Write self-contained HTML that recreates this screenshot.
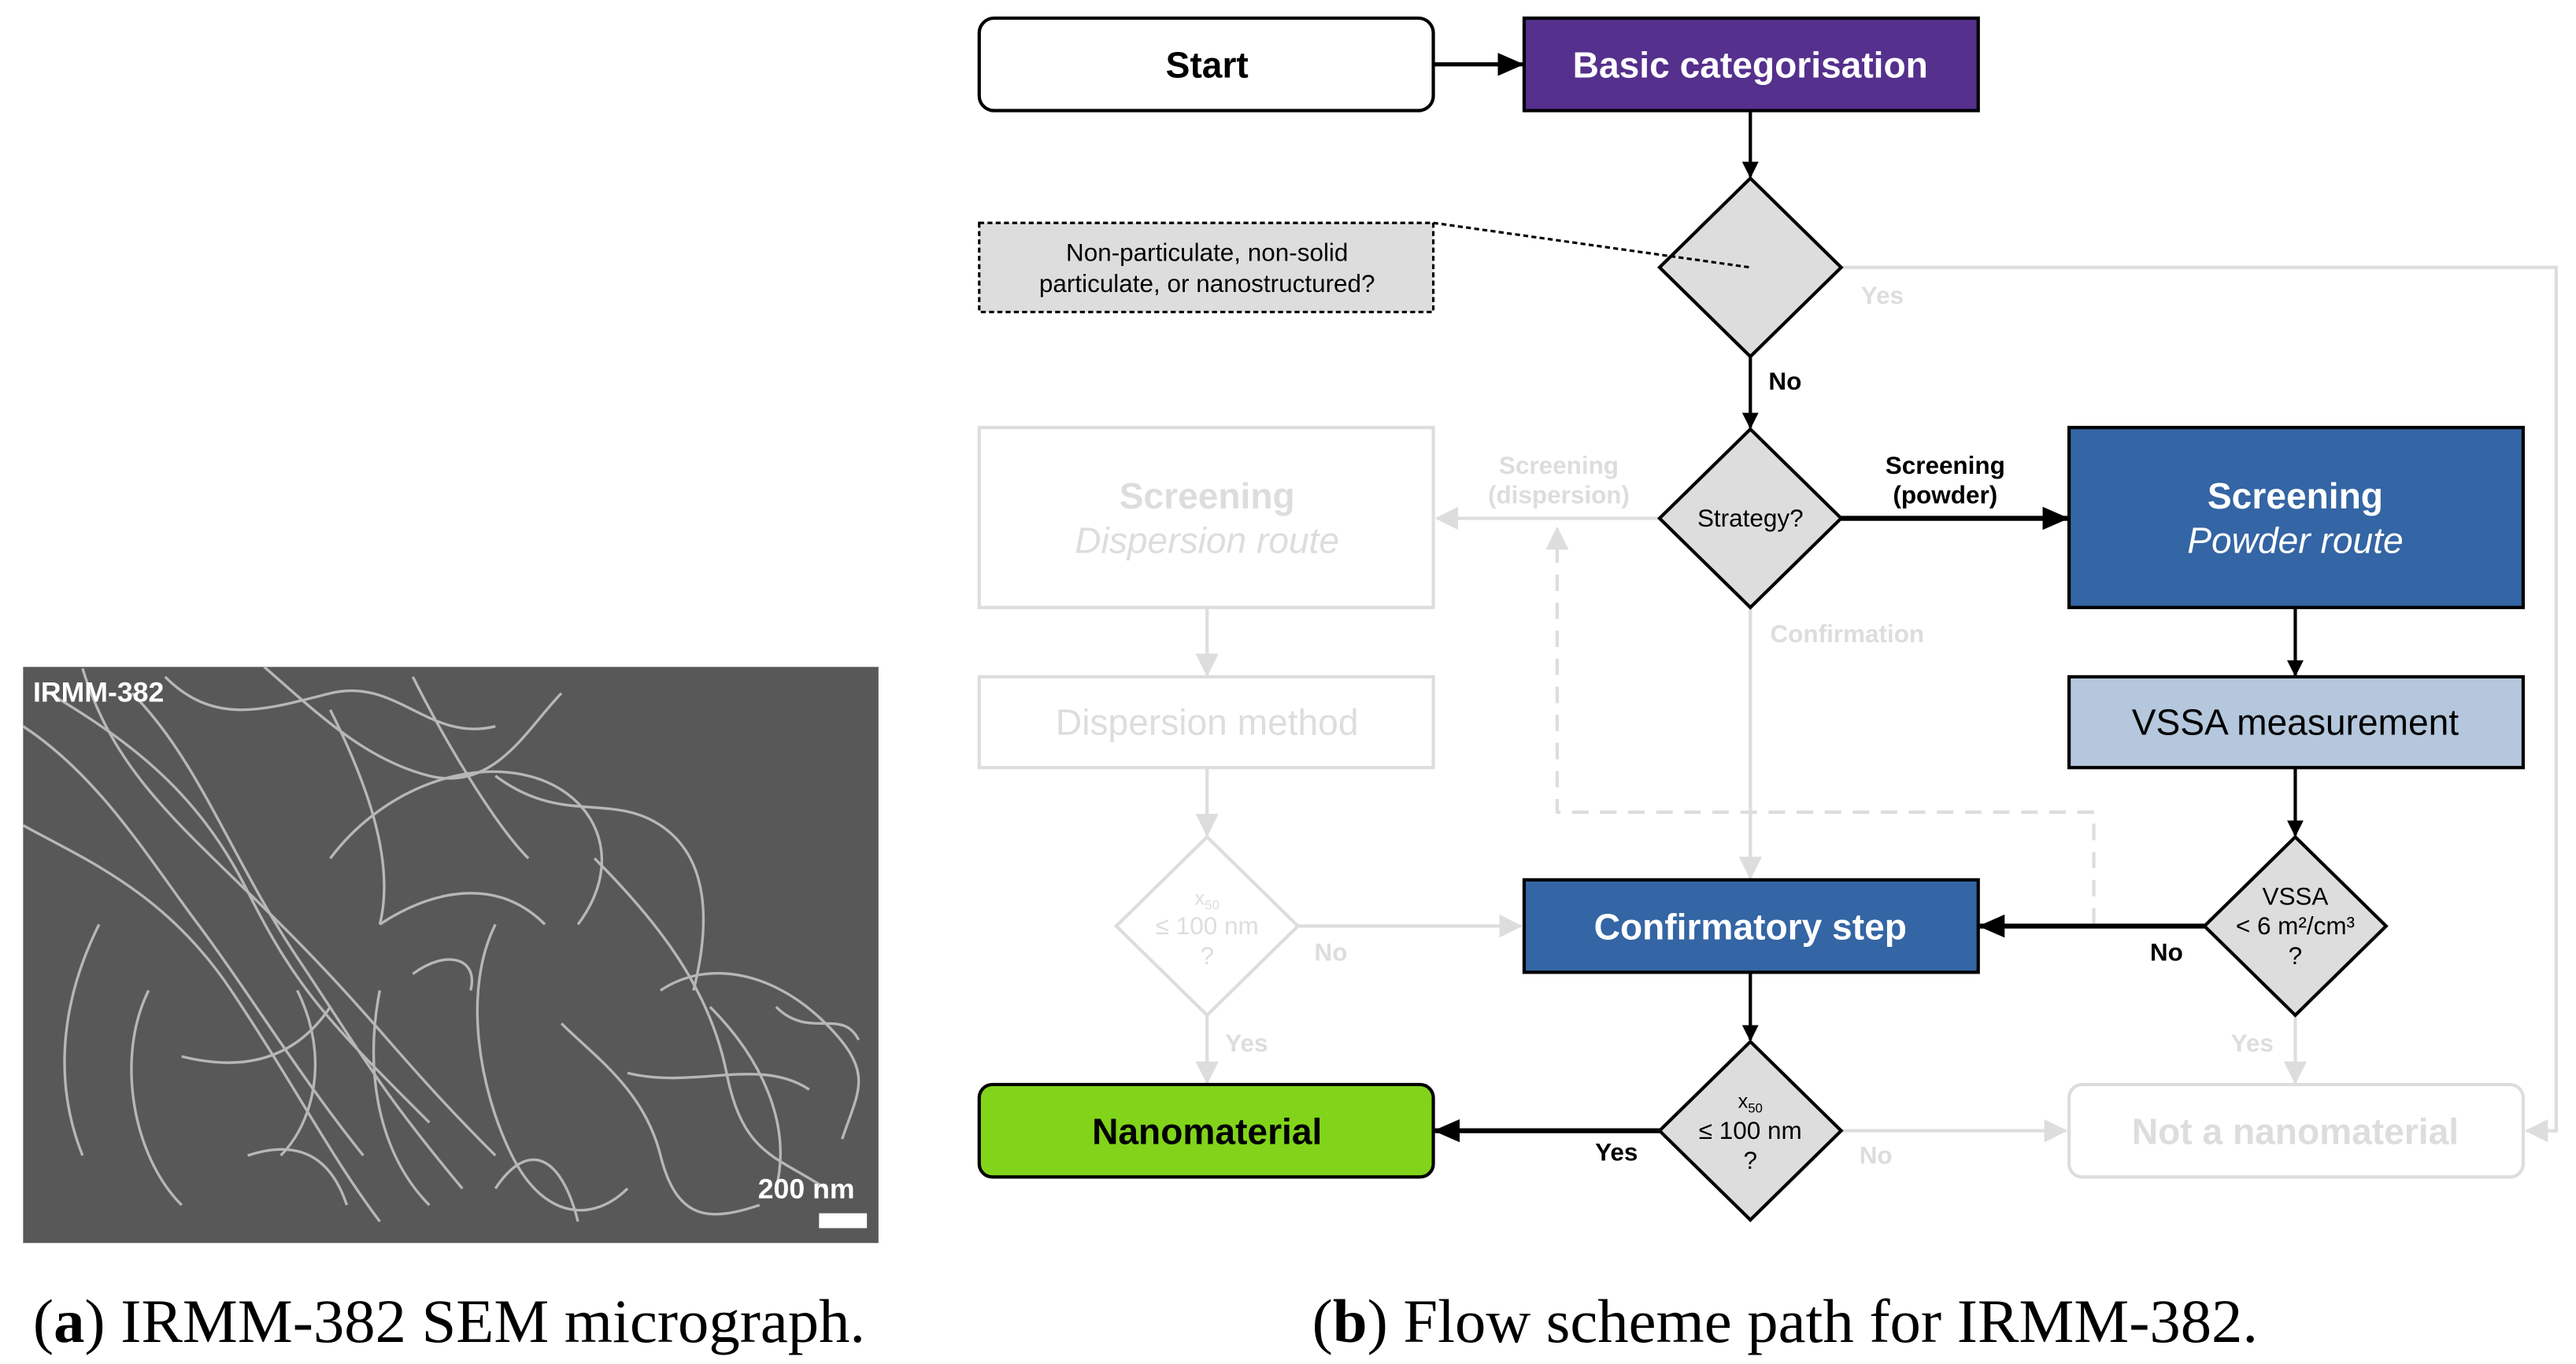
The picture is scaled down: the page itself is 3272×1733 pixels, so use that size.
<!DOCTYPE html>
<html><head><meta charset="utf-8"><style>
html,body{margin:0;padding:0;background:#fff;}
svg{display:block;}
</style></head><body>
<svg width="3272" height="1733" viewBox="0 0 1560 826.3" preserveAspectRatio="none" xmlns="http://www.w3.org/2000/svg" font-family="Liberation Sans, sans-serif">
<defs>
<marker id="ab" markerWidth="10" markerHeight="10" refX="9" refY="5" orient="auto" markerUnits="userSpaceOnUse"><path d="M0,0 L10,5 L0,10 z" fill="#000"/></marker>
<marker id="abL" markerWidth="16" markerHeight="14" refX="15" refY="7" orient="auto" markerUnits="userSpaceOnUse"><path d="M0,0 L16,7 L0,14 z" fill="#000"/></marker>
<marker id="ag" markerWidth="14" markerHeight="14" refX="13" refY="7" orient="auto" markerUnits="userSpaceOnUse"><path d="M0,0 L14,7 L0,14 z" fill="#dddddd"/></marker>
</defs>

<!-- SEM image -->
<rect x="14" y="404" width="518" height="349" fill="#585858"/>
<g fill="none" stroke="#c8c8c8" stroke-width="1.6" opacity="0.85">
<path d="M14,440 C60,470 90,520 120,560 S180,650 220,700"/>
<path d="M30,420 C80,450 120,480 150,540 S200,620 260,680"/>
<path d="M50,405 C70,470 110,500 170,560 S240,640 300,700"/>
<path d="M80,420 C120,460 140,520 180,580 S230,660 280,720"/>
<path d="M14,500 C50,520 100,540 140,600 S200,700 230,740"/>
<path d="M100,410 C130,440 160,430 200,420 S260,450 300,440"/>
<path d="M160,404 C190,430 220,460 260,470 S320,440 340,420"/>
<path d="M200,520 C230,480 280,460 320,470 S380,520 350,560"/>
<path d="M230,560 C260,540 300,530 330,560"/>
<path d="M300,470 C340,500 370,480 400,500 S430,560 420,600"/>
<path d="M230,600 C220,650 230,700 260,730"/>
<path d="M300,560 C280,600 290,660 310,700 S360,740 380,720"/>
<path d="M340,620 C360,640 390,660 400,700 S430,740 460,730"/>
<path d="M360,520 C400,560 430,600 440,650 S470,700 500,720"/>
<path d="M400,600 C430,580 470,590 500,620 S520,660 510,690"/>
<path d="M380,650 C420,660 460,640 490,660"/>
<path d="M430,610 C460,640 480,680 470,720"/>
<path d="M60,560 C40,600 30,650 50,700"/>
<path d="M90,600 C70,640 80,700 110,730"/>
<path d="M200,430 C220,470 240,520 230,560"/>
<path d="M250,410 C270,450 300,500 320,520"/>
<path d="M110,640 C150,650 180,640 200,610"/>
<path d="M250,590 C270,575 290,580 285,600"/>
<path d="M150,700 C180,690 200,700 210,730"/>
<path d="M300,720 C320,690 340,700 350,740"/>
<path d="M180,600 C200,640 190,680 170,700"/>
<path d="M470,610 C490,630 510,610 520,630"/>
</g>
<text x="20" y="425" font-size="17" font-weight="bold" fill="#fff">IRMM-382</text>
<text x="459" y="726" font-size="17" font-weight="bold" fill="#fff">200 nm</text>
<rect x="496" y="735" width="29" height="9" fill="#fff"/>
<text x="272" y="813" font-size="37.5" font-family="Liberation Serif, serif" text-anchor="middle" fill="#000">(<tspan font-weight="bold">a</tspan>) IRMM-382 SEM micrograph.</text>
<text x="1081" y="813" font-size="37.5" font-family="Liberation Serif, serif" text-anchor="middle" fill="#000">(<tspan font-weight="bold">b</tspan>) Flow scheme path for IRMM-382.</text>

<!-- gray connectors -->
<g stroke="#dddddd" stroke-width="2" fill="none">
<polyline points="1115,162 1548,162 1548,685 1530,685" marker-end="url(#ag)"/>
<line x1="1005" y1="314" x2="870" y2="314" marker-end="url(#ag)"/>
<line x1="1060" y1="368" x2="1060" y2="532" marker-end="url(#ag)"/>
<line x1="731" y1="368" x2="731" y2="409" marker-end="url(#ag)"/>
<line x1="731" y1="465" x2="731" y2="506" marker-end="url(#ag)"/>
<line x1="786" y1="561" x2="921" y2="561" marker-end="url(#ag)"/>
<line x1="731" y1="615" x2="731" y2="656" marker-end="url(#ag)"/>
<line x1="1390" y1="615" x2="1390" y2="656" marker-end="url(#ag)"/>
<line x1="1115" y1="685" x2="1251" y2="685" marker-end="url(#ag)"/>
<polyline points="1268,560 1268,492 943,492 943,320" stroke-dasharray="10,7" marker-end="url(#ag)"/>
</g>

<!-- gray boxes -->
<rect x="593" y="259" width="275" height="109" fill="#fff" stroke="#dddddd" stroke-width="2"/>
<text x="731" y="308" font-size="22" font-weight="bold" fill="#dddddd" text-anchor="middle">Screening</text>
<text x="731" y="335" font-size="22" font-style="italic" fill="#dddddd" text-anchor="middle">Dispersion route</text>
<rect x="593" y="410" width="275" height="55" fill="#fff" stroke="#dddddd" stroke-width="2"/>
<text x="731" y="445" font-size="22" fill="#dddddd" text-anchor="middle">Dispersion method</text>
<polygon points="731,507 786,561 731,615 676,561" fill="#fff" stroke="#dddddd" stroke-width="2"/>
<text x="731" y="548" font-size="12" fill="#dddddd" text-anchor="middle">x<tspan font-size="8" dy="3">50</tspan></text>
<text x="731" y="566" font-size="15" fill="#dddddd" text-anchor="middle">≤ 100 nm</text>
<text x="731" y="584" font-size="15" fill="#dddddd" text-anchor="middle">?</text>
<rect x="1253" y="657" width="275" height="56" rx="8" fill="#fff" stroke="#dddddd" stroke-width="2"/>
<text x="1390" y="693" font-size="22" font-weight="bold" fill="#dddddd" text-anchor="middle">Not a nanomaterial</text>

<!-- gray labels -->
<g font-size="15" font-weight="bold" fill="#dddddd">
<text x="1127" y="184">Yes</text>
<text x="944" y="287" text-anchor="middle">Screening</text>
<text x="944" y="305" text-anchor="middle">(dispersion)</text>
<text x="1072" y="389">Confirmation</text>
<text x="796" y="582">No</text>
<text x="742" y="637">Yes</text>
<text x="1351" y="637">Yes</text>
<text x="1126" y="705">No</text>
</g>

<!-- black connectors -->
<g stroke="#000" fill="none">
<line x1="868" y1="39" x2="922" y2="39" stroke-width="2.5" marker-end="url(#abL)"/>
<line x1="1060" y1="67" x2="1060" y2="107" stroke-width="2" marker-end="url(#ab)"/>
<line x1="1060" y1="216" x2="1060" y2="259" stroke-width="2" marker-end="url(#ab)"/>
<line x1="1115" y1="314" x2="1252" y2="314" stroke-width="3" marker-end="url(#abL)"/>
<line x1="1390" y1="368" x2="1390" y2="409" stroke-width="2" marker-end="url(#ab)"/>
<line x1="1390" y1="465" x2="1390" y2="506" stroke-width="2" marker-end="url(#ab)"/>
<line x1="1335" y1="561" x2="1199" y2="561" stroke-width="3" marker-end="url(#abL)"/>
<line x1="1060" y1="589" x2="1060" y2="630" stroke-width="2" marker-end="url(#ab)"/>
<line x1="1005" y1="685" x2="869" y2="685" stroke-width="3" marker-end="url(#abL)"/>
</g>

<!-- black boxes -->
<rect x="593" y="11" width="275" height="56" rx="9" fill="#fff" stroke="#000" stroke-width="2"/>
<text x="731" y="47" font-size="22" font-weight="bold" text-anchor="middle">Start</text>
<rect x="923" y="11" width="275" height="56" fill="#55308d" stroke="#000" stroke-width="2"/>
<text x="1060" y="47" font-size="22" font-weight="bold" fill="#fff" text-anchor="middle">Basic categorisation</text>
<rect x="593" y="135" width="275" height="54" fill="#dddddd" stroke="#000" stroke-width="1.5" stroke-dasharray="3,2"/>
<text x="731" y="158" font-size="15" text-anchor="middle">Non-particulate, non-solid</text>
<text x="731" y="177" font-size="15" text-anchor="middle">particulate, or nanostructured?</text>
<polygon points="1060,108 1115,162 1060,216 1005,162" fill="#dddddd" stroke="#000" stroke-width="2"/>
<polyline points="868,135 1060,162" stroke="#000" fill="none" stroke-width="1.5" stroke-dasharray="3,2"/>
<polygon points="1060,260 1115,314 1060,368 1005,314" fill="#dddddd" stroke="#000" stroke-width="2"/>
<text x="1060" y="319" font-size="15" text-anchor="middle">Strategy?</text>
<rect x="1253" y="259" width="275" height="109" fill="#3465a4" stroke="#000" stroke-width="2"/>
<text x="1390" y="308" font-size="22" font-weight="bold" fill="#fff" text-anchor="middle">Screening</text>
<text x="1390" y="335" font-size="22" font-style="italic" fill="#fff" text-anchor="middle">Powder route</text>
<rect x="1253" y="410" width="275" height="55" fill="#b4c7dc" stroke="#000" stroke-width="2"/>
<text x="1390" y="445" font-size="22" text-anchor="middle">VSSA measurement</text>
<polygon points="1390,507 1445,561 1390,615 1335,561" fill="#dddddd" stroke="#000" stroke-width="2"/>
<text x="1390" y="548" font-size="15" text-anchor="middle">VSSA</text>
<text x="1390" y="566" font-size="15" text-anchor="middle">&lt; 6 m²/cm³</text>
<text x="1390" y="584" font-size="15" text-anchor="middle">?</text>
<rect x="923" y="533" width="275" height="56" fill="#3465a4" stroke="#000" stroke-width="2"/>
<text x="1060" y="569" font-size="22" font-weight="bold" fill="#fff" text-anchor="middle">Confirmatory step</text>
<polygon points="1060,631 1115,685 1060,739 1005,685" fill="#dddddd" stroke="#000" stroke-width="2"/>
<text x="1060" y="671" font-size="12" text-anchor="middle">x<tspan font-size="8" dy="3">50</tspan></text>
<text x="1060" y="690" font-size="15" text-anchor="middle">≤ 100 nm</text>
<text x="1060" y="708" font-size="15" text-anchor="middle">?</text>
<rect x="593" y="657" width="275" height="56" rx="8" fill="#81d41a" stroke="#000" stroke-width="2"/>
<text x="731" y="693" font-size="22" font-weight="bold" text-anchor="middle">Nanomaterial</text>

<!-- black labels -->
<g font-size="15" font-weight="bold">
<text x="1071" y="236">No</text>
<text x="1178" y="287" text-anchor="middle">Screening</text>
<text x="1178" y="305" text-anchor="middle">(powder)</text>
<text x="1302" y="582">No</text>
<text x="966" y="703">Yes</text>
</g>
</svg>
</body></html>
